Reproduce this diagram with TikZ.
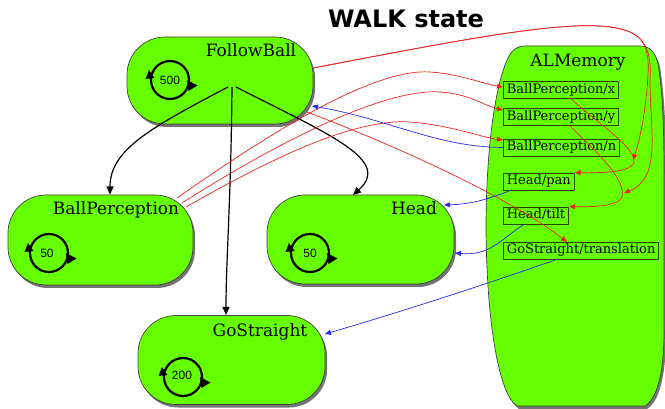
\documentclass[tikz,border=0pt]{standalone}
\usepackage{fontspec}
\setmainfont{DejaVu Serif}
\newfontfamily\numfont{Liberation Sans}
\newfontfamily\headfont{DejaVu Sans}
\usetikzlibrary{arrows.meta,shadows}
\definecolor{boxgreen}{RGB}{102,255,0}
\definecolor{itemline}{RGB}{35,70,0}
\definecolor{wred}{RGB}{238,34,34}
\definecolor{rblue}{RGB}{40,40,235}
\begin{document}
\begin{tikzpicture}[x=1pt,y=-1pt,
  bigbox/.style={draw=black!75, line width=0.7pt, fill=boxgreen, rounded corners=38pt, inner sep=0pt,
    drop shadow={shadow xshift=2pt, shadow yshift=-3pt, opacity=0.55, fill=black}},
  boxtitle/.style={anchor=base, inner sep=0pt, font=\fontsize{17}{20}\selectfont},
  memitem/.style={draw=itemline, line width=0.8pt, fill=boxgreen, anchor=west, inner xsep=3.5pt,
    inner ysep=0pt, text height=10pt, text depth=3pt, minimum height=17pt, font=\fontsize{13}{15}\selectfont},
  flow/.style={line width=1.2pt, -{Triangle[length=8pt,width=7pt]}},
  writes/.style={color=wred, line width=0.7pt, -{Triangle[length=6pt,width=5pt]}},
  reads/.style={color=rblue, line width=0.7pt, -{Triangle[length=6pt,width=5pt]}},
  loopnum/.style={inner sep=0pt, font=\numfont\fontsize{12}{14}\selectfont},
  loopicon/.pic={
    \draw[line width=2.2pt] (0,0) circle[radius=19pt];
    \fill (-21,-10) -- (-24.5,-1) -- (-15.5,-2) -- cycle;
    \fill (17,0) -- (27.5,5.5) -- (18.5,11) -- cycle;
  }
]
\useasboundingbox (0,0) rectangle (665,409);

% title
\node[anchor=base, inner sep=0pt, font=\headfont\bfseries\fontsize{24}{28}\selectfont] (title) at (406,28) {WALK state};

% ALMemory container
\draw[draw=black!75, line width=0.7pt, fill=boxgreen,
  drop shadow={shadow xshift=2pt, shadow yshift=-3pt, opacity=0.55, fill=black}]
  (525,46) -- (640,46) .. controls (652,46) and (657,55) .. (659,70)
  .. controls (663,100) and (664,130) .. (664,180) -- (664,330)
  .. controls (664,375) and (657,398) .. (645,406) -- (517,406)
  .. controls (500,395) and (487,330) .. (486,230)
  .. controls (486,150) and (495,85) .. (508,58)
  .. controls (512,50) and (517,46) .. (525,46) -- cycle;
\node[boxtitle] (memt) at (578,67) {ALMemory};

% modules
\node[bigbox, minimum width=186pt, minimum height=87pt] (fb) at (220,80.5) {};
\node[bigbox, minimum width=185pt, minimum height=90pt] (bp) at (100.5,240) {};
\node[bigbox, minimum width=187pt, minimum height=89pt] (hd) at (360.5,239.5) {};
\node[bigbox, minimum width=187pt, minimum height=89pt] (gs) at (231.5,360) {};

\node[boxtitle] (fbt) at (251,57) {FollowBall};
\node[boxtitle] (bpt) at (116,215) {BallPerception};
\node[boxtitle] (hdt) at (414,215) {Head};
\node[boxtitle] (gst) at (260,337) {GoStraight};

% loop icons
\pic at (170,80) {loopicon};
\node[loopnum] (fbrate) at (170,80.5) {500};
\pic at (49,253) {loopicon};
\node[loopnum] (bprate) at (47,253.5) {50};
\pic at (310,253) {loopicon};
\node[loopnum] (hdrate) at (310,253.5) {50};
\pic at (183,377) {loopicon};
\node[loopnum] (gsrate) at (182,375.5) {200};

% memory items
\node[memitem] (bpx) at (503,90) {BallPerception/x};
\node[memitem] (bpy) at (503,117) {BallPerception/y};
\node[memitem] (bpn) at (503,147.5) {BallPerception/n};
\node[memitem] (hp) at (503,181.5) {Head/pan};
\node[memitem] (ht) at (503,215.5) {Head/tilt};
\node[memitem] (gt) at (503,250.5) {GoStraight/translation};

% connector end points
\coordinate (fbA) at (228,87);
\coordinate (fbB) at (232,87);
\coordinate (fbC) at (236,87);
\coordinate (bpT) at (110,194.5);
\coordinate (gsT) at (226,315);
\coordinate (hdT) at (353,195);
\coordinate (fbR1) at (313,68);
\coordinate (fbR2) at (307,112);
\coordinate (jpan) at (633,160);
\coordinate (jtilt) at (624,193);
\coordinate (bpxS) at (570,98);
\coordinate (bpyS) at (570,126);
\coordinate (gtN) at (567,242);
\coordinate (bpR1) at (177,198);
\coordinate (bpR2) at (182,203);
\coordinate (bpR3) at (186,207);
\coordinate (bpxW) at (503,87);
\coordinate (bpyW) at (503,110);
\coordinate (bpnW) at (503,140);
\coordinate (fbBlue) at (312,106);
\coordinate (hpS) at (512,190);
\coordinate (htS) at (523,225);
\coordinate (gtS) at (558,259);
\coordinate (hdR1) at (444,205);
\coordinate (hdR2) at (455,253);
\coordinate (gsR) at (325,334);

% control flow
\draw[flow] (fbA) .. controls (150,128) and (110,150) .. (bpT);
\draw[flow] (fbB) .. controls (231,200) and (226,260) .. (gsT);
\draw[flow] (fbC) .. controls (330,135) and (392,160) .. (hdT);

% writes (red)
\draw[writes] (fbR1) .. controls (450,42) and (560,20) .. (610,27)
  .. controls (640,31) and (650,42) .. (648,75) .. controls (646,110) and (640,140) .. (jpan);
\draw[writes] (fbR1) .. controls (450,42) and (560,20) .. (610,27)
  .. controls (642,31) and (652,45) .. (650,80) .. controls (650,130) and (662,178) .. (jtilt);
\draw[writes] (bpxS) .. controls (600,125) and (636,148) .. (634,162)
  .. controls (632,172) and (605,173) .. (hp.north east);
\draw[writes] (bpyS) .. controls (600,155) and (626,180) .. (622,197)
  .. controls (619,206) and (595,207) .. (ht.north east);
\draw[writes] (fbR2) .. controls (420,155) and (520,205) .. (gtN);
\draw[writes] (bpR1) .. controls (260,140) and (370,68) .. (430,72)
  .. controls (460,74) and (480,83) .. (bpxW);
\draw[writes] (bpR2) .. controls (265,150) and (380,88) .. (440,92)
  .. controls (470,94) and (485,106) .. (bpyW);
\draw[writes] (bpR3) .. controls (260,165) and (350,118) .. (410,122)
  .. controls (450,125) and (480,137) .. (bpnW);

% reads (blue)
\draw[reads] (bpn.west) .. controls (460,147) and (430,137) .. (380,122)
  .. controls (350,113) and (330,109) .. (fbBlue);
\draw[reads] (hpS) .. controls (490,198) and (475,204) .. (hdR1);
\draw[reads] (htS) .. controls (500,240) and (490,256) .. (hdR2);
\draw[reads] (gtS) .. controls (470,290) and (380,318) .. (gsR);
\end{tikzpicture}
\end{document}
